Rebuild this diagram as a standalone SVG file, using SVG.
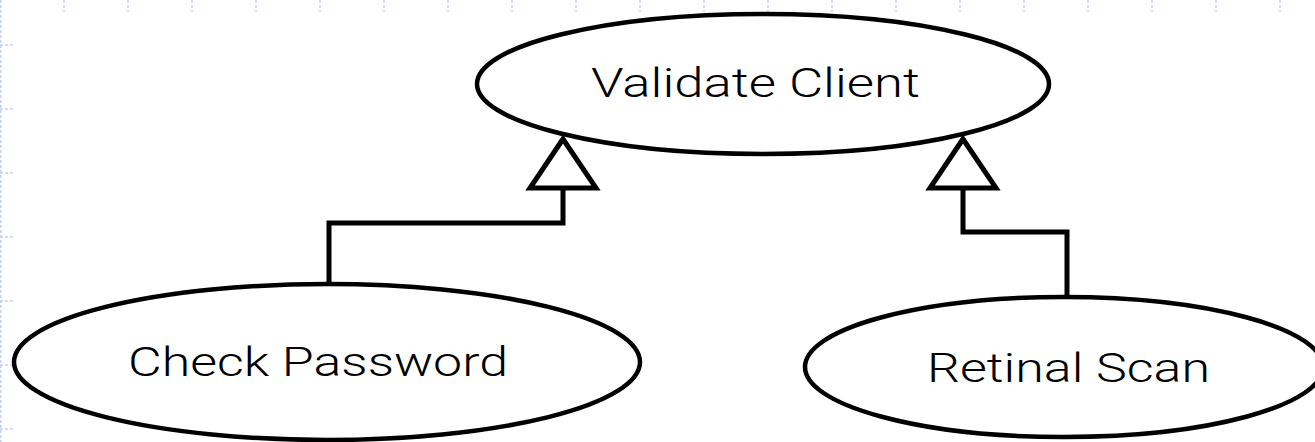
<svg xmlns="http://www.w3.org/2000/svg" width="1315" height="442" viewBox="0 0 1315 442">
  <style>
    .grid { stroke: #c4cff6; stroke-width: 1.5; stroke-dasharray: 3 2; fill: none; }
    .usecase { fill: #ffffff; stroke: #000000; stroke-width: 4.5; }
    .label { font-family: Roboto, "Liberation Sans", Arial, sans-serif; font-weight: 300; font-size: 41px; fill: #000000; }
    .link { fill: none; stroke: #000000; stroke-width: 5; stroke-linejoin: miter; }
    .head { fill: #ffffff; stroke: #000000; stroke-width: 5; stroke-linejoin: miter; }
  </style>
  <rect width="1315" height="442" fill="#ffffff"/>

  <!-- page grid ticks along the top and left margins -->
  <g id="grid">
    <line class="grid" x1="0.75" y1="0" x2="0.75" y2="442"/>
    <path class="grid" d="M64 0V12 M128 0V12 M192 0V12 M256 0V12 M320 0V12 M384 0V12 M448 0V12 M512 0V12 M576 0V12 M640 0V12 M704 0V12 M768 0V12 M832 0V12 M896 0V12 M960 0V12 M1024 0V12 M1088 0V12 M1152 0V12 M1216 0V12 M1280 0V12"/>
    <path class="grid" d="M0 45H15 M0 109H15 M0 173H15 M0 237H15 M0 301H15 M0 365H15 M0 429H15"/>
  </g>

  <!-- generalization connectors -->
  <g id="connectors">
    <path class="link" d="M329 284V223H563V188"/>
    <polygon class="head" points="563,139 530,188 596,188"/>
    <path class="link" d="M1067 297V232H963V188"/>
    <polygon class="head" points="963,139 930,188 996,188"/>
  </g>

  <g id="validate-client">
    <ellipse class="usecase" cx="763" cy="84" rx="286" ry="70"/>
    <text class="label" x="591" y="97" textLength="329" lengthAdjust="spacingAndGlyphs">Validate Client</text>
  </g>

  <g id="check-password">
    <ellipse class="usecase" cx="327" cy="362" rx="313" ry="78"/>
    <text class="label" x="128" y="376" textLength="380" lengthAdjust="spacingAndGlyphs">Check Password</text>
  </g>

  <g id="retinal-scan">
    <ellipse class="usecase" cx="1064" cy="367" rx="259" ry="70"/>
    <text class="label" x="927" y="382" textLength="283" lengthAdjust="spacingAndGlyphs">Retinal Scan</text>
  </g>
</svg>
